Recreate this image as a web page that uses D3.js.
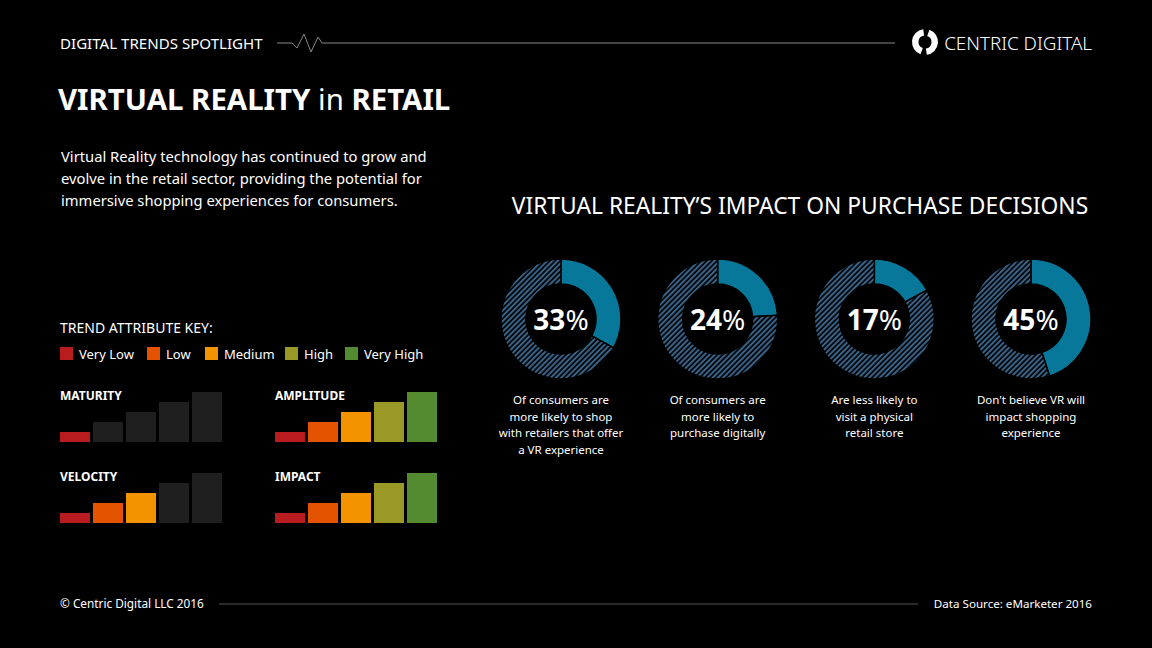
<!DOCTYPE html>
<html><head><meta charset="utf-8">
<script src="https://cdn.jsdelivr.net/npm/d3@7"></script>
<style>
html,body{margin:0;padding:0;background:#000;}
svg{display:block;}
text{font-family:"Noto Sans",Roboto,sans-serif;fill:#fff;}
</style></head>
<body>
<svg id="chart" width="1152" height="648"></svg>
<script>
// ---- data ----
const headerLabel = "DIGITAL TRENDS SPOTLIGHT";
const brandName = "CENTRIC DIGITAL";
const titleParts = [["VIRTUAL REALITY ", 700], ["in ", 400], ["RETAIL", 700]];
const introLines = [
  "Virtual Reality technology has continued to grow and",
  "evolve in the retail sector, providing the potential for",
  "immersive shopping experiences for consumers."
];
const chartTitle = "VIRTUAL REALITY\u2019S IMPACT ON PURCHASE DECISIONS";
const donutValues = [33, 24, 17, 45];
const donutCaptions = [
  ["Of consumers are", "more likely to shop", "with retailers that offer", "a VR experience"],
  ["Of consumers are", "more likely to", "purchase digitally"],
  ["Are less likely to", "visit a physical", "retail store"],
  ["Don't believe VR will", "impact shopping", "experience"]
];
const keyTitle = "TREND ATTRIBUTE KEY:";
const levels = ["Very Low", "Low", "Medium", "High", "Very High"];
const levelColors = ["#b91c1e", "#e35300", "#f39300", "#9a9826", "#558b30"];
const attributes = ["MATURITY", "AMPLITUDE", "VELOCITY", "IMPACT"];
const attributeLevels = [1, 5, 3, 5];
const footerLeft = "\u00A9 Centric Digital LLC 2016";
const footerRight = "Data Source: eMarketer 2016";

// ---- drawing ----
const svg = d3.select("#chart");

// header
svg.append("text").attr("x", 60).attr("y", 49).attr("font-size", 15.1).text(headerLabel);
const zig = [[277,43],[292,43],[297,48],[304,34],[311,52],[318,37],[322,43],[895,43]];
svg.append("path").attr("d", d3.line()(zig)).attr("fill","none").attr("stroke","#888").attr("stroke-width",1);

// logo
const logo = svg.append("g").attr("transform","translate(925,42)");
const logoArc = d3.arc().innerRadius(6.5).outerRadius(13);
logo.append("path").attr("d", logoArc({startAngle: 20*Math.PI/180, endAngle: 172*Math.PI/180})).attr("fill","#fff");
logo.append("path").attr("d", logoArc({startAngle: 200*Math.PI/180, endAngle: 352*Math.PI/180})).attr("fill","#fff");
svg.append("text").attr("x", 1092).attr("y", 50).attr("text-anchor","end").attr("font-size", 18.8).attr("font-weight",300).text(brandName);

// title
const t = svg.append("text").attr("x", 58).attr("y", 110).attr("font-size", 29.4);
titleParts.forEach(p => t.append("tspan").attr("font-weight", p[1]).text(p[0]));

// intro
svg.append("g").selectAll("text").data(introLines).join("text")
  .attr("x", 61).attr("y", (d,i) => 162 + i*22).attr("font-size", 14.75).text(d => d);

// chart title
svg.append("text").attr("x", 800).attr("y", 214).attr("text-anchor","middle").attr("font-size", 22.8).attr("font-weight",400).text(chartTitle);

// hatch pattern
const defs = svg.append("defs");
defs.append("pattern").attr("id","hatch").attr("patternUnits","userSpaceOnUse")
  .attr("width", 3.7).attr("height", 3.7).attr("patternTransform","rotate(45)")
  .append("rect").attr("width", 2).attr("height", 3.7).attr("fill", "#39648a");

// donuts
const xDonut = d3.scalePoint().domain(d3.range(donutValues.length)).range([561, 1031]);
const pie = d3.pie().sort(null);
const arc = d3.arc().innerRadius(35).outerRadius(60);
donutValues.forEach((v, i) => {
  const g = svg.append("g").attr("transform", `translate(${xDonut(i)},319)`);
  const arcs = pie([v, 100 - v]);
  g.selectAll("path").data(arcs).join("path")
    .attr("d", arc)
    .attr("fill", (d,j) => j === 0 ? "#08789a" : "url(#hatch)")
    .attr("stroke", "#000").attr("stroke-width", 1.5);
  const lbl = g.append("text").attr("text-anchor","middle").attr("y", 11).attr("font-size", 28);
  lbl.append("tspan").attr("font-weight",700).text(v);
  lbl.append("tspan").attr("font-weight",400).text("%");
  g.append("g").selectAll("text").data(donutCaptions[i]).join("text")
    .attr("text-anchor","middle").attr("y", (d,k) => 85 + k*16.5).attr("font-size", 11.5).text(d => d);
});

// trend key
svg.append("text").attr("x", 60).attr("y", 333).attr("font-size", 14).text(keyTitle);
const legendX = [60, 147, 205, 285, 345];
const lg = svg.append("g").selectAll("g").data(levels).join("g")
  .attr("transform", (d,i) => `translate(${legendX[i]},347)`);
lg.append("rect").attr("width", 13).attr("height", 13).attr("fill", (d,i) => levelColors[i]);
lg.append("text").attr("x", 19).attr("y", 12).attr("font-size", 13).text(d => d);

// small bar charts
const xBar = d3.scaleBand().domain(d3.range(levels.length)).range([0, 162]).paddingInner(0.09);
const hBar = d3.scaleLinear().domain([0, levels.length]).range([0, 50]);
const panelPos = [[60, 442], [275, 442], [60, 523], [275, 523]];
attributes.forEach((a, i) => {
  const g = svg.append("g").attr("transform", `translate(${panelPos[i][0]},${panelPos[i][1]})`);
  g.append("text").attr("x", 0).attr("y", -42).attr("font-size", 12).attr("font-weight", 700).text(a);
  g.selectAll("rect").data(levels).join("rect")
    .attr("x", (d,j) => xBar(j)).attr("width", xBar.bandwidth())
    .attr("y", (d,j) => -hBar(j+1)).attr("height", (d,j) => hBar(j+1))
    .attr("fill", (d,j) => j < attributeLevels[i] ? levelColors[j] : "#1f1f1f");
});

// footer
svg.append("text").attr("x", 60).attr("y", 608).attr("font-size", 11.8).text(footerLeft);
svg.append("line").attr("x1", 219).attr("x2", 918).attr("y1", 604).attr("y2", 604).attr("stroke","#555");
svg.append("text").attr("x", 1092).attr("y", 608).attr("text-anchor","end").attr("font-size", 11.6).text(footerRight);
</script>
</body></html>
